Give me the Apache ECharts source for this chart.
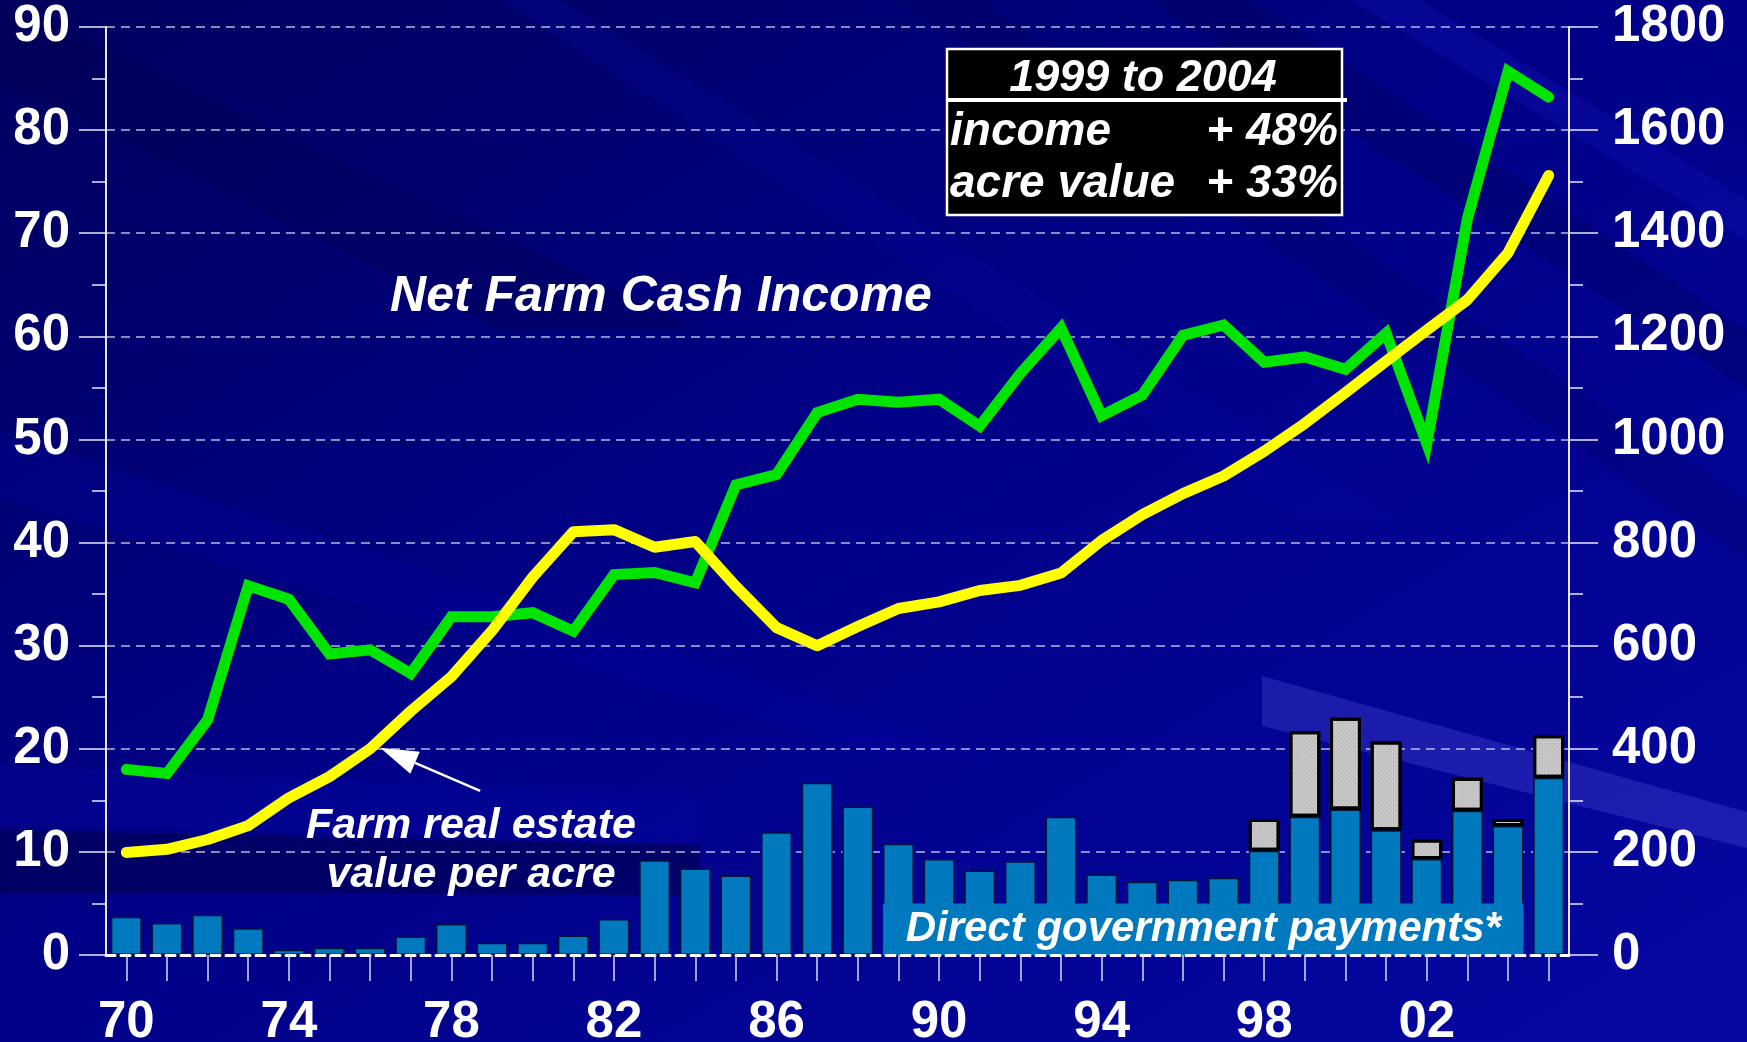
<!DOCTYPE html>
<html>
<head>
<meta charset="utf-8">
<script src="https://cdn.jsdelivr.net/npm/echarts@6/dist/echarts.min.js"></script>
<style>
html,body{margin:0;padding:0;background:#000084;overflow:hidden;}
#wrap{position:relative;width:1747px;height:1042px;}
#bg{position:absolute;left:0;top:0;}
#c{position:absolute;left:0;top:0;width:1747px;height:1042px;}
</style>
</head>
<body>
<div id="wrap">
<svg id="bg" width="1747" height="1042" xmlns="http://www.w3.org/2000/svg">
  <defs>
    <linearGradient id="g0" x1="0" y1="0" x2="1" y2="1">
      <stop offset="0" stop-color="#00005e"/>
      <stop offset="0.45" stop-color="#000086"/>
      <stop offset="1" stop-color="#0608a2"/>
    </linearGradient>
  </defs>
  <rect x="0" y="0" width="1747" height="1042" fill="url(#g0)"/>
  <polygon points="0,80 500,330 700,330 0,0" fill="#000050" opacity="0.35"/>
  <polygon points="0,500 900,760 1000,760 0,430" fill="#0000a8" opacity="0.25"/>
  <polygon points="0,830 700,845 700,895 0,893" fill="#00004a" opacity="0.55"/>
  <polygon points="0,765 700,795 700,840 0,825" fill="#0808b0" opacity="0.25"/>
  <polygon points="1262,676 1747,812 1747,848 1262,726" fill="#4a4ad8" opacity="0.35"/>
  <polygon points="1150,0 1250,0 1747,330 1747,390" fill="#00005a" opacity="0.35"/>
  <polygon points="1350,0 1420,0 1747,200 1747,240" fill="#1010b8" opacity="0.35"/>
  <polygon points="900,0 980,0 1747,500 1747,560" fill="#00005a" opacity="0.25"/>
  <polygon points="500,0 560,0 1400,520 1300,520" fill="#0a0aa8" opacity="0.2"/>
</svg>
<div id="c"></div>
</div>
<script>
// ---------- data ----------
const years = ['1970','1971','1972','1973','1974','1975','1976','1977','1978','1979',
  '1980','1981','1982','1983','1984','1985','1986','1987','1988','1989',
  '1990','1991','1992','1993','1994','1995','1996','1997','1998','1999',
  '2000','2001','2002','2003','2004','2005'];
// Direct government payments, $ billion (blue part)
const directPayments = [3.7,3.1,3.9,2.6,0.5,0.7,0.7,1.8,3.0,1.2,
  1.2,1.9,3.5,9.2,8.4,7.7,11.9,16.7,14.4,10.8,
  9.3,8.2,9.1,13.4,7.8,7.1,7.3,7.5,10.1,13.4,
  14.1,12.1,9.3,14.0,12.5,17.2];
// additional (hatched) payments, $ billion
const otherPayments = ['-','-','-','-','-','-','-','-','-','-',
  '-','-','-','-','-','-','-','-','-','-',
  '-','-','-','-','-','-','-','-',3.1,8.3,
  8.9,8.6,1.9,3.2,0.7,4.1];
// Net farm cash income, $ billion (left axis)
const netFarmCashIncome = [18.0,17.6,22.8,35.8,34.5,29.2,29.6,27.3,32.8,32.8,
  33.2,31.4,36.9,37.1,36.1,45.6,46.6,52.6,53.9,53.6,
  53.9,51.3,56.4,60.8,52.3,54.3,60.1,61.1,57.5,58.0,
  56.8,60.3,49.6,71.4,85.7,83.2];
// Farm real estate value per acre, $ (right axis)
const valuePerAcre = [199,205,224,251,305,346,400,473,540,629,
  733,821,825,791,802,715,635,600,637,672,
  685,707,717,741,804,854,895,929,977,1031,
  1091,1152,1212,1271,1362,1512];
const leftAxis = {min:0, max:90, step:10};
const rightAxis = {min:0, max:1800, step:200};

const FONT = '"Liberation Sans", Arial, sans-serif';
const BLUE = '#0079bf';

const chart = echarts.init(document.getElementById('c'), null, {renderer:'canvas'});

const axisLabelStyle = {color:'#ffffff', fontSize:51, fontWeight:'bold', fontFamily:FONT};

chart.setOption({
  backgroundColor: 'transparent',
  animation: false,
  grid: {left:106, right:178, top:27, bottom:87, containLabel:false, outerBoundsMode:'none'},
  xAxis: {
    type:'category', data: years, boundaryGap:true, z:5,
    axisLine:{show:true, lineStyle:{color:'#ffffff', width:3, type:[9,6]}},
    axisTick:{show:true, interval:0, alignWithLabel:true, length:26, lineStyle:{color:'#d8d8ee', width:1.5}},
    axisLabel:Object.assign({interval:3, margin:42, formatter: v => v.slice(2)}, axisLabelStyle),
    splitLine:{show:false}
  },
  yAxis: [
    {
      type:'value', position:'left', min:leftAxis.min, max:leftAxis.max, interval:leftAxis.step,
      axisLine:{show:true, lineStyle:{color:'#e8e8f4', width:2}},
      axisTick:{show:true, length:27, lineStyle:{color:'#e8e8f4', width:1.5}},
      minorTick:{show:true, splitNumber:2, length:14, lineStyle:{color:'#e8e8f4', width:1.5}},
      splitLine:{show:true, lineStyle:{color:'rgba(215,215,240,0.85)', width:1.5, type:[9,6]}},
      axisLabel:Object.assign({margin:36, formatter: v => String(v)}, axisLabelStyle)
    },
    {
      type:'value', position:'right', min:rightAxis.min, max:rightAxis.max, interval:rightAxis.step,
      axisLine:{show:true, lineStyle:{color:'#e8e8f4', width:2}},
      axisTick:{show:true, length:29, lineStyle:{color:'#e8e8f4', width:1.5}},
      minorTick:{show:true, splitNumber:2, length:14, lineStyle:{color:'#e8e8f4', width:1.5}},
      splitLine:{show:false},
      axisLabel:Object.assign({margin:43, formatter: v => String(v)}, axisLabelStyle)
    }
  ],
  series: [
    {
      name:'Direct government payments', type:'bar', stack:'gov', yAxisIndex:0,
      data: directPayments, barWidth:'76%', z:2,
      itemStyle:{color:BLUE, borderColor:'#07143a', borderWidth:1.5}
    },
    {
      name:'Other payments', type:'bar', stack:'gov', yAxisIndex:0,
      data: otherPayments, barWidth:'76%', z:2,
      itemStyle:{color:'#c8c8c8', borderColor:'#000000', borderWidth:3,
        decal:{symbol:'rect', symbolSize:1, dashArrayX:[1,2], dashArrayY:[1,2], rotation:Math.PI/4, color:'rgba(110,110,110,0.4)'}}
    },
    {
      name:'Net Farm Cash Income', type:'line', yAxisIndex:0, data: netFarmCashIncome,
      symbol:'none', z:6,
      lineStyle:{color:'#00e400', width:11, cap:'round', join:'miter'}
    },
    {
      name:'Farm real estate value per acre', type:'line', yAxisIndex:1, data: valuePerAcre,
      symbol:'none', z:7,
      lineStyle:{color:'#ffff00', width:11, cap:'round', join:'round'}
    }
  ]
});

// ---------- annotations ----------
const textStyle = (t, size) => ({text:t, fill:'#ffffff', font:'italic bold ' + size + 'px ' + FONT, align:'center', verticalAlign:'middle'});

// band behind "Direct government payments*"
const pA = chart.convertToPixel({xAxisIndex:0, yAxisIndex:0}, ['1989', 5]);
const pB = chart.convertToPixel({xAxisIndex:0, yAxisIndex:0}, ['2004', 0]);
const catW = (pB[0] - pA[0]) / 15;
const bw = catW * 0.76;
const bx0 = pA[0] - bw/2, bx1 = pB[0] + bw/2;

// arrow to the 1976 value per acre
const pt = chart.convertToPixel({xAxisIndex:0, yAxisIndex:1}, ['1976', valuePerAcre[6]]);
const tip = [pt[0] + 10, pt[1] - 1];
const tail = [tip[0] + 100, tip[1] + 43];
const L = Math.hypot(tail[0]-tip[0], tail[1]-tip[1]);
const u = [(tail[0]-tip[0])/L, (tail[1]-tip[1])/L];
const n = [-u[1], u[0]];
const hl = 38, hw = 12;
const base = [tip[0] + u[0]*hl, tip[1] + u[1]*hl];

chart.setOption({
  graphic: [
    {type:'rect', z:3, shape:{x:bx0, y:pA[1], width:bx1-bx0, height:pB[1]-pA[1]}, style:{fill:BLUE}},
    {type:'text', z:4, x:(bx0+bx1)/2, y:(pA[1]+pB[1])/2, style:textStyle('Direct government payments*', 42)},

    {type:'text', z:8, x:661, y:297, style:textStyle('Net Farm Cash Income', 50)},

    {type:'text', z:8, x:471, y:826, style:textStyle('Farm real estate', 43)},
    {type:'text', z:8, x:471, y:875, style:textStyle('value per acre', 43)},
    {type:'line', z:8, shape:{x1:base[0], y1:base[1], x2:tail[0], y2:tail[1]}, style:{stroke:'#ffffff', lineWidth:2.5}},
    {type:'polygon', z:8, shape:{points:[tip, [base[0]+n[0]*hw, base[1]+n[1]*hw], [base[0]-n[0]*hw, base[1]-n[1]*hw]]}, style:{fill:'#ffffff'}},

    {type:'rect', z:8, shape:{x:947, y:49, width:395, height:166}, style:{fill:'#000000', stroke:'#ffffff', lineWidth:2.5}},
    {type:'line', z:9, shape:{x1:947, y1:100, x2:1347, y2:100}, style:{stroke:'#ffffff', lineWidth:4}},
    {type:'text', z:9, x:1143, y:79, style:textStyle('1999 to 2004', 45)},
    {type:'text', z:9, x:950, y:132, style:Object.assign(textStyle('income', 46), {align:'left'})},
    {type:'text', z:9, x:1338, y:132, style:Object.assign(textStyle('+ 48%', 46), {align:'right'})},
    {type:'text', z:9, x:950, y:184, style:Object.assign(textStyle('acre value', 46), {align:'left'})},
    {type:'text', z:9, x:1338, y:184, style:Object.assign(textStyle('+ 33%', 46), {align:'right'})}
  ]
});
</script>
</body>
</html>
